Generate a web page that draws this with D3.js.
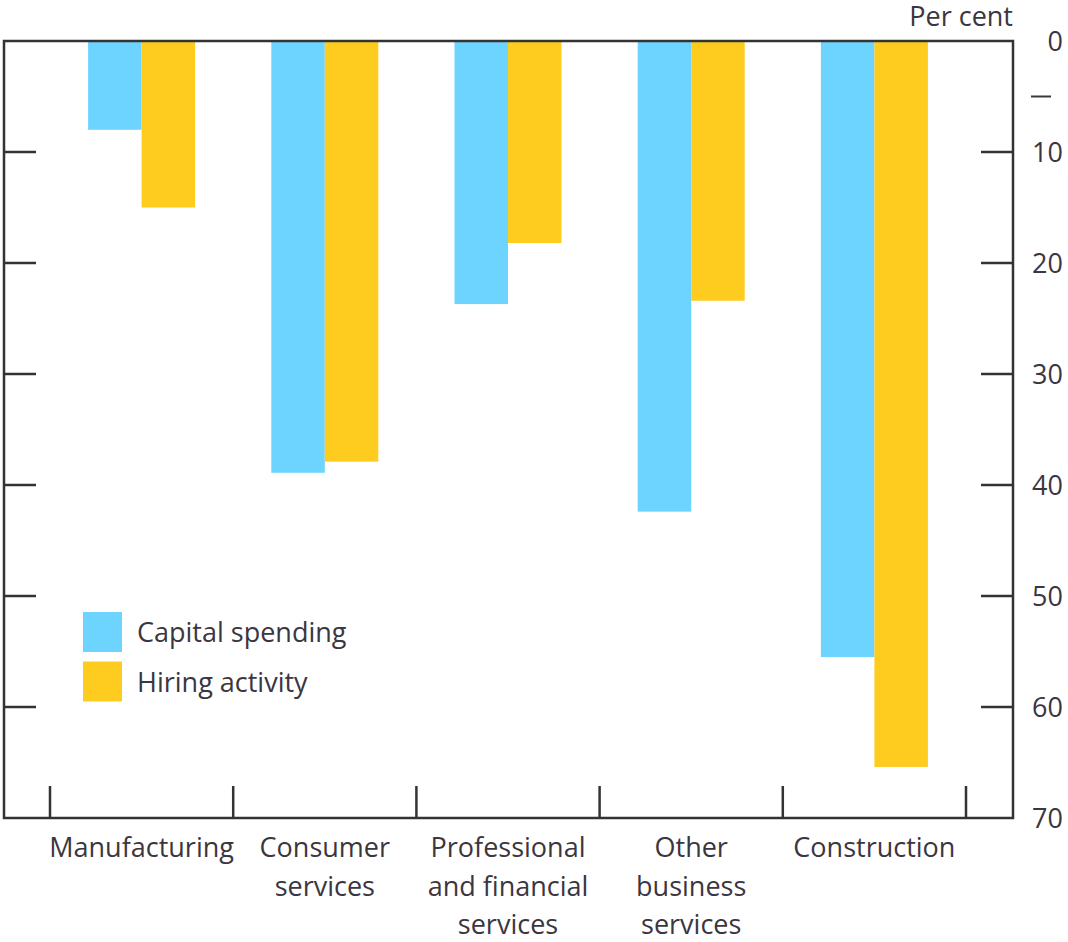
<!DOCTYPE html>
<html>
<head>
<meta charset="utf-8">
<script src="https://cdn.jsdelivr.net/npm/d3@7"></script>
<style>
  html, body { margin: 0; padding: 0; background: #fff; }
  svg { display: block; font-family: "Open Sans", "Noto Sans", sans-serif; }
</style>
</head>
<body>
<div id="container"></div>
<script>
// data
const categories = [
  ["Manufacturing"],
  ["Consumer", "services"],
  ["Professional", "and financial", "services"],
  ["Other", "business", "services"],
  ["Construction"]
];
const seriesNames = ["Capital spending", "Hiring activity"];
const capitalSpending = [8.0, 38.9, 23.7, 42.4, 55.5];
const hiringActivity = [15.0, 37.9, 18.2, 23.4, 65.4];
const yTicks = [0, 10, 20, 30, 40, 50, 60, 70];
const colors = ["#6dd3ff", "#fecb1f"];

const width = 1068,
  height = 942;

// frame
const frameLeft = 4,
  frameRight = 1013,
  frameTop = 41,
  frameBottom = 818;
const tickLen = 32;
const ink = "#333333";
const textColor = "#3b3640";
const fontSize = 27;

const svg = d3
  .select("#container")
  .append("svg")
  .attr("width", width)
  .attr("height", height)
  .attr("viewBox", [0, 0, width, height]);

const x = d3
  .scaleBand()
  .domain(d3.range(categories.length))
  .range([50, 966])
  .paddingInner(0)
  .paddingOuter(0);

const y = d3.scaleLinear().domain([0, 70]).range([frameTop, frameBottom]);

const barW = 53.5;
const series = [capitalSpending, hiringActivity];

// bars
series.forEach((vals, s) => {
  svg
    .append("g")
    .attr("fill", colors[s])
    .selectAll("rect")
    .data(vals)
    .join("rect")
    .attr("x", (d, i) => x(i) + x.bandwidth() / 2 - barW + s * barW)
    .attr("y", y(0))
    .attr("width", barW)
    .attr("height", (d) => y(d) - y(0));
});

// frame
svg
  .append("rect")
  .attr("x", frameLeft)
  .attr("y", frameTop)
  .attr("width", frameRight - frameLeft)
  .attr("height", frameBottom - frameTop)
  .attr("fill", "none")
  .attr("stroke", ink)
  .attr("stroke-width", 2.5);

// y tick labels on the right
const yAxisRight = d3
  .axisRight(y)
  .tickValues(yTicks)
  .tickSize(0)
  .tickPadding(0)
  .tickFormat(d3.format("d"));

svg
  .append("g")
  .attr("transform", `translate(1063,0)`)
  .call(yAxisRight)
  .call((g) => g.select(".domain").remove())
  .call((g) =>
    g
      .selectAll(".tick text")
      .attr("text-anchor", "end")
      .attr("x", 0)
      .attr("dy", "0.36em")
      .attr("fill", textColor)
      .attr("font-size", fontSize)
      .attr("font-family", "'Open Sans', 'Noto Sans', sans-serif")
  );

// inner ticks on both sides
const innerTicks = yTicks.filter((t) => t > 0 && t < 70);
[
  [frameLeft, frameLeft + tickLen],
  [frameRight - tickLen, frameRight]
].forEach(([x1, x2]) => {
  svg
    .append("g")
    .attr("stroke", ink)
    .attr("stroke-width", 2.5)
    .selectAll("line")
    .data(innerTicks)
    .join("line")
    .attr("x1", x1)
    .attr("x2", x2)
    .attr("y1", (d) => y(d))
    .attr("y2", (d) => y(d));
});

// minus sign marking negative values
svg
  .append("line")
  .attr("x1", 1031)
  .attr("x2", 1051)
  .attr("y1", y(5))
  .attr("y2", y(5))
  .attr("stroke", textColor)
  .attr("stroke-width", 2);

// "Per cent"
svg
  .append("text")
  .attr("x", 1013)
  .attr("y", 26)
  .attr("text-anchor", "end")
  .attr("fill", textColor)
  .attr("font-size", fontSize)
  .text("Per cent");

// x category separators
const sepX = d3.range(categories.length + 1).map((i) => 50 + i * x.bandwidth());
svg
  .append("g")
  .attr("stroke", ink)
  .attr("stroke-width", 2.5)
  .selectAll("line")
  .data(sepX)
  .join("line")
  .attr("x1", (d) => d)
  .attr("x2", (d) => d)
  .attr("y1", frameBottom)
  .attr("y2", frameBottom - tickLen);

// category labels
const catG = svg
  .append("g")
  .attr("fill", textColor)
  .attr("font-size", fontSize)
  .attr("text-anchor", "middle");

categories.forEach((lines, i) => {
  const t = catG
    .append("text")
    .attr("x", x(i) + x.bandwidth() / 2)
    .attr("y", 857);
  lines.forEach((ln, k) => {
    t.append("tspan")
      .attr("x", x(i) + x.bandwidth() / 2)
      .attr("dy", k === 0 ? 0 : 38.5)
      .text(ln);
  });
});

// legend
const legend = svg
  .append("g")
  .attr("transform", "translate(83,612)");

seriesNames.forEach((name, i) => {
  legend
    .append("rect")
    .attr("x", 0)
    .attr("y", i * 49.5)
    .attr("width", 39)
    .attr("height", 40)
    .attr("fill", colors[i]);
  legend
    .append("text")
    .attr("x", 54)
    .attr("y", i * 49.5 + 30)
    .attr("fill", textColor)
    .attr("font-size", fontSize)
    .text(name);
});
</script>
</body>
</html>
